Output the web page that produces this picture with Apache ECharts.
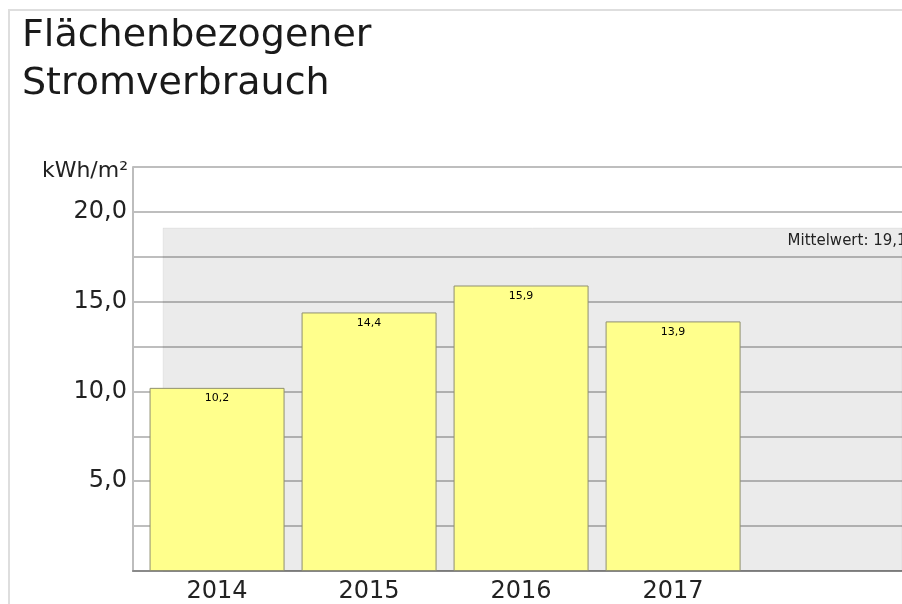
<!DOCTYPE html>
<html lang="de">
<head>
    <meta charset="utf-8" />
    <title>Flächenbezogener Stromverbrauch</title>
    <script src="https://cdn.jsdelivr.net/npm/echarts@6/dist/echarts.min.js"></script>
    <style>
        html, body { margin: 0; padding: 0; background: #fff; }
        #main { width: 902px; height: 604px; }
    </style>
</head>
<body>
    <div id="main"></div>
    <script>
        // Jahre und Verbrauch in kWh/m²
        var years = [2014, 2015, 2016, 2017];
        var values = [10.2, 14.4, 15.9, 13.9];
        // Mittelwert-Band (Hintergrund)
        var meanValue = 19.1;
        var meanLabel = 'Mittelwert: 19,1 kWh/m²';
        var bandStart = 2013.645;
        var xMin = 2013.447, xMax = 2018.506;

        var font = 'DejaVu Sans';
        var fmt = function (v) { return v.toFixed(1).replace('.', ','); };

        var chart = echarts.init(document.getElementById('main'));
        chart.setOption({
            animation: false,
            title: {
                text: 'Flächenbezogener\nStromverbrauch',
                left: 22,
                top: 12,
                padding: 0,
                textStyle: { fontFamily: font, fontSize: 38, fontWeight: 'normal', color: '#1a1a1a', lineHeight: 48 }
            },
            graphic: [{
                type: 'rect',
                shape: { x: 9, y: 10, width: 1000, height: 700 },
                style: { fill: 'none', stroke: '#dedede', lineWidth: 2 },
                silent: true
            }],
            grid: { left: 133, right: 0, top: 167, bottom: 33 },
            xAxis: {
                type: 'value',
                min: xMin,
                max: xMax,
                axisLine: { show: true, lineStyle: { color: '#8a8a8a', width: 2 } },
                axisTick: { show: false },
                splitLine: { show: false },
                axisLabel: {
                    customValues: years,
                    formatter: function (v) { return String(v); },
                    fontFamily: font, fontSize: 24, color: '#222', margin: 9
                }
            },
            yAxis: {
                type: 'value',
                min: 0,
                max: 22.5,
                interval: 2.5,
                name: 'kWh/m²',
                nameLocation: 'end',
                nameGap: -4,
                nameTextStyle: { fontFamily: font, fontSize: 22, color: '#222', align: 'right', verticalAlign: 'middle', padding: [0, 5, 0, 0] },
                axisLine: { show: true, lineStyle: { color: '#bdbdbd', width: 2 } },
                axisTick: { show: false },
                splitLine: { show: true, lineStyle: { color: '#a9a9a9', width: 1.5 } },
                axisLabel: {
                    formatter: function (v) { return (v > 0 && v % 5 === 0) ? fmt(v) : ''; },
                    fontFamily: font, fontSize: 24, color: '#222', margin: 6
                }
            },
            series: [{
                type: 'bar',
                barWidth: 135,
                data: years.map(function (y, i) { return [y, values[i]]; }),
                itemStyle: { color: '#ffff8c', borderColor: '#8f8f70', borderWidth: 1 },
                label: {
                    show: true,
                    position: 'insideTop',
                    distance: 5,
                    formatter: function (p) { return fmt(p.value[1]); },
                    fontFamily: font, fontSize: 11, color: '#000'
                },
                z: 3,
                markArea: {
                    silent: true,
                    // halbtransparent, damit die Gitterlinien durchscheinen
                    itemStyle: { color: 'rgba(0,0,0,0.08)', borderColor: 'rgba(0,0,0,0.06)', borderWidth: 1 },
                    label: {
                        show: true,
                        position: [625, 6],
                        fontFamily: font, fontSize: 15, color: '#222'
                    },
                    data: [[
                        { name: meanLabel, xAxis: bandStart, yAxis: meanValue },
                        { xAxis: xMax, yAxis: 0 }
                    ]]
                }
            }]
        });
    </script>
</body>
</html>
